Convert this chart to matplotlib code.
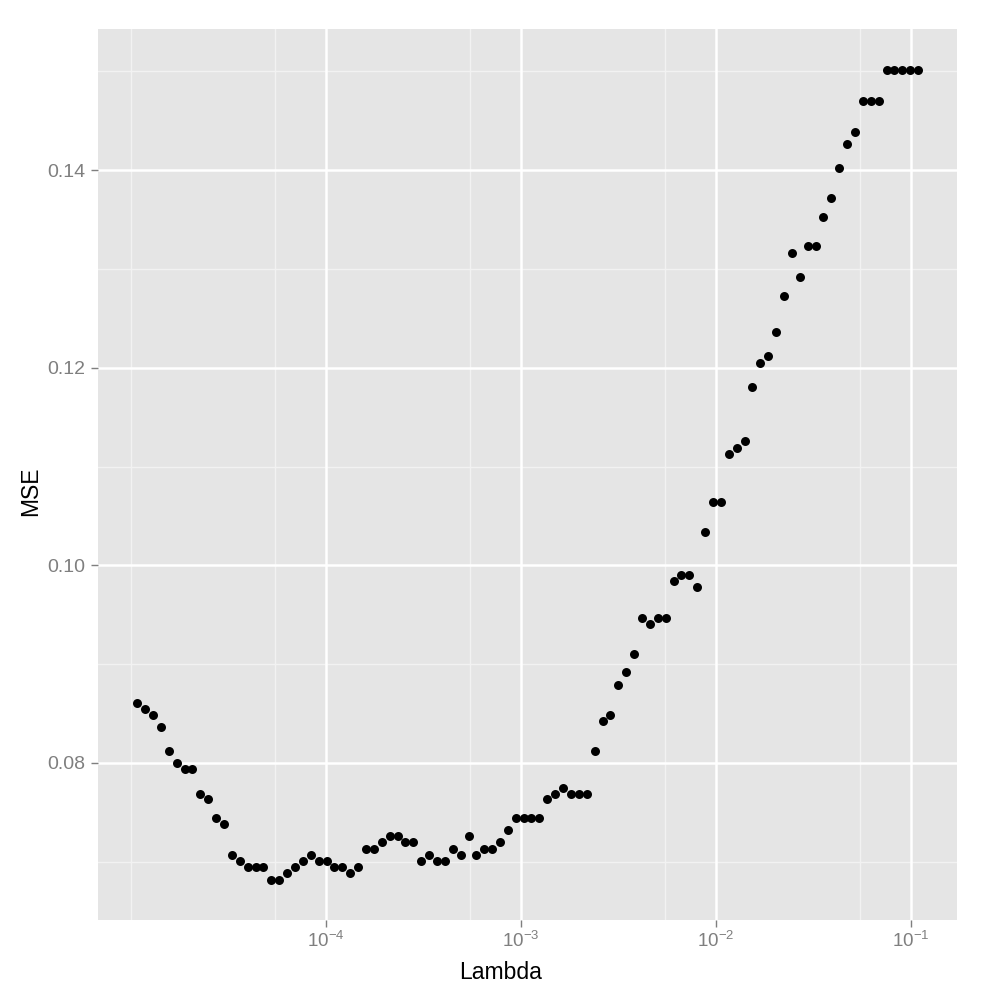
import numpy as np
import matplotlib
matplotlib.use("Agg")
import matplotlib.pyplot as plt

# log10(lambda) values
log10_lambda = [
    -4.968, -4.928, -4.887, -4.847, -4.806, -4.766, -4.725, -4.685, -4.644, -4.604,
    -4.563, -4.523, -4.483, -4.442, -4.402, -4.361, -4.321, -4.280, -4.240, -4.199,
    -4.159, -4.119, -4.078, -4.038, -3.997, -3.957, -3.916, -3.876, -3.835, -3.795,
    -3.755, -3.714, -3.674, -3.633, -3.593, -3.552, -3.512, -3.471, -3.431, -3.390,
    -3.350, -3.310, -3.269, -3.229, -3.188, -3.148, -3.107, -3.067, -3.026, -2.986,
    -2.946, -2.905, -2.865, -2.824, -2.784, -2.743, -2.703, -2.662, -2.622, -2.581,
    -2.541, -2.501, -2.460, -2.420, -2.379, -2.339, -2.298, -2.258, -2.217, -2.177,
    -2.137, -2.096, -2.056, -2.015, -1.975, -1.934, -1.894, -1.853, -1.813, -1.772,
    -1.732, -1.692, -1.651, -1.611, -1.570, -1.530, -1.489, -1.449, -1.408, -1.368,
    -1.328, -1.287, -1.247, -1.206, -1.166, -1.125, -1.085, -1.044, -1.004, -0.963,
]
mse = [
    0.0861, 0.0855, 0.0849, 0.0836, 0.0812, 0.0800, 0.0794, 0.0794, 0.0769, 0.0763,
    0.0744, 0.0738, 0.0707, 0.0701, 0.0695, 0.0695, 0.0695, 0.0682, 0.0682, 0.0689,
    0.0695, 0.0701, 0.0707, 0.0701, 0.0701, 0.0695, 0.0695, 0.0689, 0.0695, 0.0713,
    0.0713, 0.0720, 0.0726, 0.0726, 0.0720, 0.0720, 0.0701, 0.0707, 0.0701, 0.0701,
    0.0713, 0.0707, 0.0726, 0.0707, 0.0713, 0.0713, 0.0720, 0.0732, 0.0744, 0.0744,
    0.0744, 0.0744, 0.0763, 0.0769, 0.0775, 0.0769, 0.0769, 0.0769, 0.0812, 0.0842,
    0.0849, 0.0879, 0.0892, 0.0910, 0.0947, 0.0941, 0.0947, 0.0947, 0.0984, 0.0990,
    0.0990, 0.0978, 0.1034, 0.1064, 0.1064, 0.1113, 0.1119, 0.1126, 0.1181, 0.1205,
    0.1212, 0.1236, 0.1273, 0.1316, 0.1292, 0.1323, 0.1323, 0.1353, 0.1372, 0.1402,
    0.1427, 0.1439, 0.1470, 0.1470, 0.1470, 0.1501, 0.1501, 0.1501, 0.1501, 0.1501,
]
x_major = [1e-4, 1e-3, 1e-2, 1e-1]
x_labels = [r"$10^{-4}$", r"$10^{-3}$", r"$10^{-2}$", r"$10^{-1}$"]
x_minor_log = [-5.0, -4.26, -3.26, -2.26, -1.26]
y_major = [0.08, 0.10, 0.12, 0.14]
y_minor = [0.07, 0.09, 0.11, 0.13, 0.15]

plt.rcParams["font.family"] = ["Liberation Sans", "DejaVu Sans"]
plt.rcParams["mathtext.fontset"] = "custom"
plt.rcParams["mathtext.rm"] = "Liberation Sans"
plt.rcParams["mathtext.it"] = "Liberation Sans:italic"
plt.rcParams["mathtext.bf"] = "Liberation Sans:bold"

lam = [10 ** v for v in log10_lambda]

fig = plt.figure(figsize=(10, 10), dpi=100)
ax = fig.add_axes([0.098, 0.080, 0.859, 0.891])
ax.set_facecolor("#E5E5E5")
ax.set_xscale("log")
ax.set_xlim(10 ** -5.169, 10 ** -0.764)
ax.set_ylim(0.0641, 0.1543)

for v in x_minor_log:
    ax.axvline(10 ** v, color="#F2F2F2", lw=1.0, zorder=1)
for v in y_minor:
    ax.axhline(v, color="#F2F2F2", lw=1.0, zorder=1)
for v in x_major:
    ax.axvline(v, color="white", lw=1.8, zorder=1)
for v in y_major:
    ax.axhline(v, color="white", lw=1.8, zorder=1)

ax.scatter(lam, mse, s=42, color="black", linewidths=0, zorder=3)

ax.set_xticks(x_major)
ax.set_xticklabels(x_labels)
ax.xaxis.set_minor_locator(matplotlib.ticker.NullLocator())
ax.set_yticks(y_major)
ax.set_yticklabels([f"{v:.2f}" for v in y_major])
ax.tick_params(axis="both", which="major", length=5, width=1.0, color="#7F7F7F",
               labelcolor="#7F7F7F", direction="out", pad=4)
ax.tick_params(axis="x", labelsize=13.5, pad=3)
ax.tick_params(axis="y", labelsize=14)
for s in ax.spines.values():
    s.set_visible(False)

fig.text(0.501, 0.021, "Lambda", fontsize=16.5, color="black",
         ha="center", va="baseline")
fig.text(0.031, 0.509, "MSE", fontsize=16.5, color="black",
         ha="center", va="center", rotation=90)

fig.savefig("out.png", dpi=100, facecolor="white")
